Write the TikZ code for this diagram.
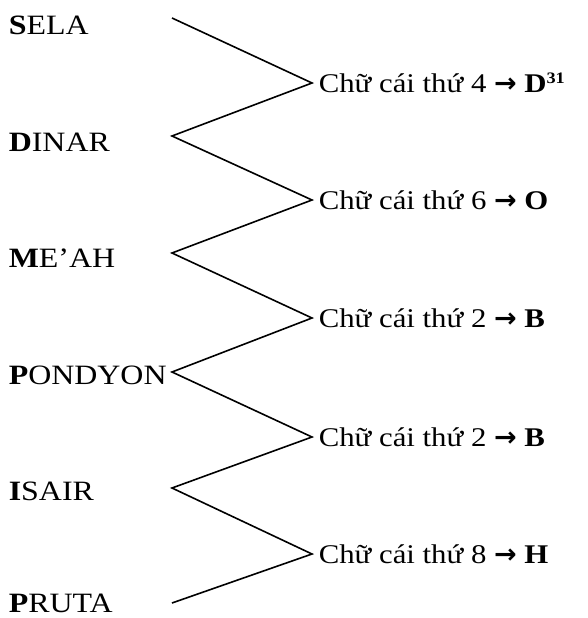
\documentclass[tikz,border=0pt]{standalone}
\usepackage{fontspec}
\setmainfont[FakeStretch=1.14]{Liberation Serif}
\newfontfamily\arrowfont{DejaVu Sans}
\usepackage{tikz}
\usetikzlibrary{positioning}

\newcommand{\gives}{{\arrowfont\bfseries →}}

\begin{document}
\begin{tikzpicture}[x=1pt, y=-1pt, line width=1.6pt,
    coin/.style={anchor=base west, inner sep=0pt, font=\fontsize{28}{30}\selectfont},
    letter/.style={anchor=west, inner sep=0pt, font=\fontsize{27}{30}\selectfont}]
  \useasboundingbox (0,0) rectangle (587,618);
  % zigzag corners
  \coordinate (l0) at (172,18);
  \coordinate (r1) at (312,83);
  \coordinate (l1) at (172,136);
  \coordinate (r2) at (312,200);
  \coordinate (l2) at (172,253);
  \coordinate (r3) at (312,318);
  \coordinate (l3) at (172,372);
  \coordinate (r4) at (312,437);
  \coordinate (l4) at (172,488);
  \coordinate (r5) at (312,554);
  \coordinate (l5) at (172,603);
  % coin names
  \node[coin] (sela)    at (8,35)  {\textbf{S}ELA};
  \node[coin] (dinar)   at (8,151) {\textbf{D}INAR};
  \node[coin] (meah)    at (8,267) {\textbf{M}E’AH};
  \node[coin] (pondyon) at (8,384) {\textbf{P}ONDYON};
  \node[coin] (isair)   at (8,500) {\textbf{I}SAIR};
  \node[coin] (pruta)   at (8,612) {\textbf{P}RUTA};
  % letters
  \node[letter, right=6pt of r1] (d) {Chữ cái thứ 4 \gives{} \textbf{D{\fontsize{16}{16}\selectfont\raisebox{9pt}{31}}}};
  \node[letter, right=6pt of r2] (o) {Chữ cái thứ 6 \gives{} \textbf{O}};
  \node[letter, right=6pt of r3] (b1) {Chữ cái thứ 2 \gives{} \textbf{B}};
  \node[letter, right=6pt of r4] (b2) {Chữ cái thứ 2 \gives{} \textbf{B}};
  \node[letter, right=6pt of r5] (h) {Chữ cái thứ 8 \gives{} \textbf{H}};
  \draw (l0) -- (r1) -- (l1) -- (r2) -- (l2) -- (r3) -- (l3) -- (r4) -- (l4) -- (r5) -- (l5);
\end{tikzpicture}
\end{document}
